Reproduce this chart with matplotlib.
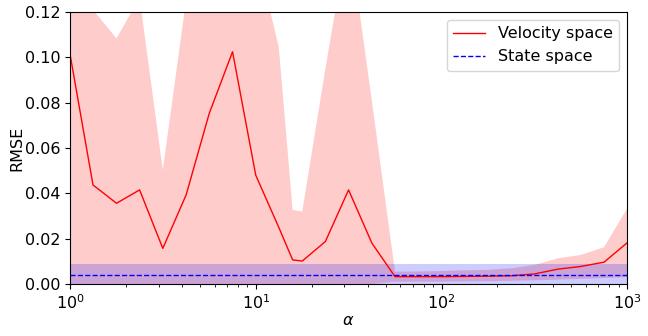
import numpy as np
import matplotlib
matplotlib.use("Agg")
import matplotlib.pyplot as plt

# alpha grid (log spaced, plus one extra point near 15.8)
alpha = [1.0, 1.33, 1.78, 2.37, 3.16, 4.22, 5.62, 7.5, 10.0, 13.3, 15.8, 17.8,
         23.7, 31.6, 42.2, 56.2, 75.0, 100.0, 133.0, 178.0, 237.0, 316.0,
         422.0, 562.0, 750.0, 1000.0]

# velocity space: mean RMSE and band
vel_mean = [0.1015, 0.0437, 0.0356, 0.0415, 0.0157, 0.0393, 0.0753, 0.1025,
            0.0480, 0.0250, 0.0106, 0.0101, 0.0187, 0.0415, 0.0180, 0.0032,
            0.0032, 0.0032, 0.0033, 0.0034, 0.0036, 0.0044, 0.0065, 0.0077,
            0.0096, 0.0182]
vel_upper = [0.135, 0.121, 0.1084, 0.1264, 0.0503, 0.1255, 0.140, 0.160,
             0.1467, 0.1047, 0.0326, 0.0320, 0.095, 0.155, 0.0807, 0.0054,
             0.0055, 0.0057, 0.0060, 0.0062, 0.0069, 0.0084, 0.0113, 0.0128,
             0.0162, 0.0334]
vel_lower = [0.0, 0.0, 0.0, 0.0, 0.0, 0.0, 0.0, 0.0, 0.0, 0.0, 0.0, 0.0, 0.0,
             0.0, 0.0, 0.0010, 0.0010, 0.0010, 0.0011, 0.0012, 0.0014, 0.0016,
             0.0019, 0.0022, 0.0026, 0.0030]

# state space: constant mean and std
state_mean = 0.0039
state_std = 0.0051

x = np.array(alpha)
vm = np.array(vel_mean)
vu = np.array(vel_upper)
vl = np.array(vel_lower)

fs = 11.5
fig, ax = plt.subplots(figsize=(6.48, 3.36), dpi=100)
fig.subplots_adjust(left=0.108, right=0.968, bottom=0.155, top=0.964)

ax.fill_between(x, vl, vu, color='red', alpha=0.2, lw=0)
ax.fill_between(x, state_mean - state_std, state_mean + state_std,
                color='blue', alpha=0.2, lw=0)
ax.plot(x, vm, color='red', lw=1, label='Velocity space')
ax.plot(x, np.full_like(x, state_mean), color='blue', lw=1, ls='--',
        label='State space')

ax.set_xscale('log')
ax.set_xlim(1, 1000)
ax.set_ylim(0, 0.12)
ax.set_xlabel(r'$\alpha$', fontsize=fs, labelpad=0.5)
ax.set_ylabel('RMSE', fontsize=fs, labelpad=0)
ax.tick_params(labelsize=fs)
ax.legend(loc='upper right', fontsize=fs)

fig.savefig('out.png')
